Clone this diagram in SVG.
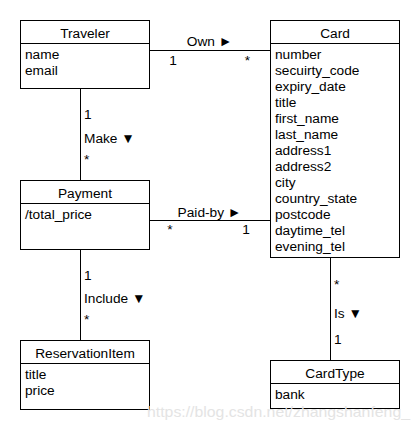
<svg xmlns="http://www.w3.org/2000/svg" width="420" height="430" viewBox="0 0 420 430">
<style>
text{font-family:"Liberation Sans",Arial,sans-serif;font-size:13.7px;fill:#000}
.t{text-anchor:middle}
.m{text-anchor:middle}
rect{fill:#fff;stroke:#000;stroke-width:1}
line{stroke:#000;stroke-width:1}
.wm{fill:#e4e4e4;font-size:14.5px}
</style>
<rect x="0" y="0" width="420" height="430" style="stroke:none"/>
<g id="connectors">
<line x1="150" y1="50.5" x2="270" y2="50.5"/>
<line x1="150" y1="220.5" x2="270" y2="220.5"/>
<line x1="80.5" y1="89" x2="80.5" y2="181"/>
<line x1="80.5" y1="249" x2="80.5" y2="340"/>
<line x1="330.5" y1="257" x2="330.5" y2="360"/>
<text class="m" x="209.5" y="46">Own ►</text>
<text class="m" x="173" y="64.5">1</text>
<text class="m" x="247.5" y="64.5">*</text>
<text class="m" x="209.5" y="216.5">Paid-by ►</text>
<text class="m" x="170" y="234">*</text>
<text class="m" x="246" y="234">1</text>
<text x="84" y="119.3">1</text>
<text x="84" y="143">Make ▼</text>
<text x="84" y="163.5">*</text>
<text x="84" y="279.5">1</text>
<text x="84" y="303.3">Include ▼</text>
<text x="84" y="323.5">*</text>
<text x="334" y="289">*</text>
<text x="334" y="317.7">Is ▼</text>
<text x="334" y="344">1</text>
</g>
<g id="traveler">
<rect x="20.5" y="20.5" width="129" height="68"/>
<line x1="20.5" y1="43.5" x2="149.5" y2="43.5"/>
<text class="t" x="85" y="38.3">Traveler</text>
<text x="25" y="59">name</text>
<text x="25" y="75">email</text>
</g>
<g id="card">
<rect x="270.5" y="20.5" width="129" height="237"/>
<line x1="270.5" y1="43.5" x2="399.5" y2="43.5"/>
<text class="t" x="335" y="38.3">Card</text>
<text x="275" y="59">number</text>
<text x="275" y="75">secuirty_code</text>
<text x="275" y="91">expiry_date</text>
<text x="275" y="107">title</text>
<text x="275" y="123">first_name</text>
<text x="275" y="139">last_name</text>
<text x="275" y="155">address1</text>
<text x="275" y="171">address2</text>
<text x="275" y="187">city</text>
<text x="275" y="203">country_state</text>
<text x="275" y="219">postcode</text>
<text x="275" y="235">daytime_tel</text>
<text x="275" y="251">evening_tel</text>
</g>
<g id="payment">
<rect x="20.5" y="180.5" width="129" height="69"/>
<line x1="20.5" y1="203.5" x2="149.5" y2="203.5"/>
<text class="t" x="85" y="198.4">Payment</text>
<text x="25" y="219">/total_price</text>
</g>
<g id="reservationitem">
<rect x="20.5" y="340.5" width="129" height="69"/>
<line x1="20.5" y1="363.5" x2="149.5" y2="363.5"/>
<text class="t" x="85" y="358.3">ReservationItem</text>
<text x="25" y="379">title</text>
<text x="25" y="395">price</text>
</g>
<g id="cardtype">
<rect x="270.5" y="360.5" width="129" height="48"/>
<line x1="270.5" y1="383.5" x2="399.5" y2="383.5"/>
<text class="t" x="335" y="378.3">CardType</text>
<text x="275" y="399">bank</text>
</g>
<text class="wm" x="147" y="417" textLength="263" lengthAdjust="spacingAndGlyphs">https://blog.csdn.net/zhangshanfeng_</text>
</svg>
